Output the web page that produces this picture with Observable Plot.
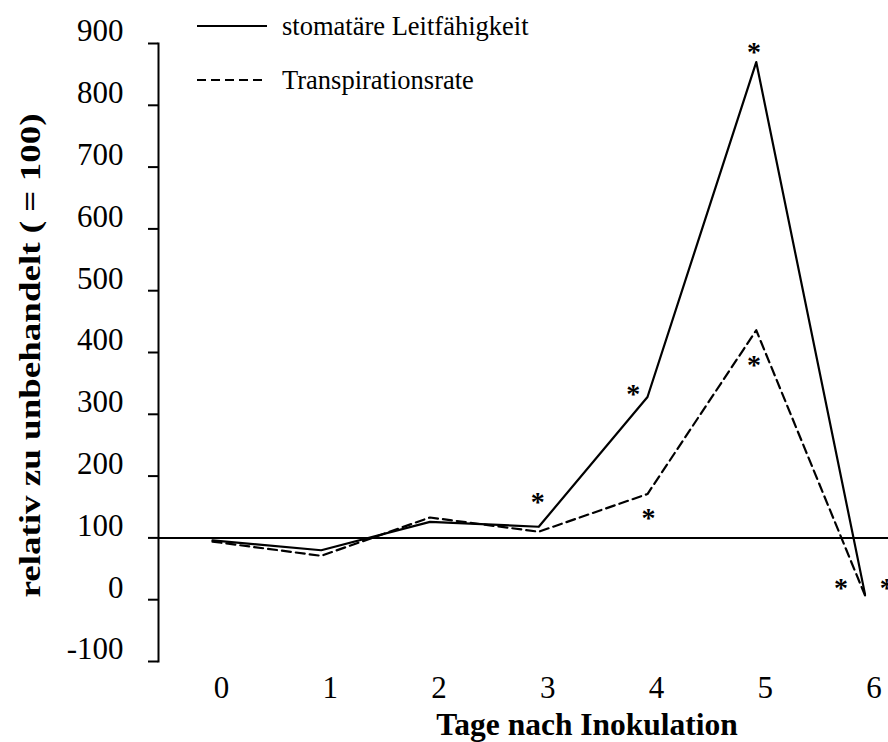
<!DOCTYPE html>
<html><head><meta charset="utf-8">
<script src="https://cdn.jsdelivr.net/npm/d3@7"></script>
<script src="https://cdn.jsdelivr.net/npm/@observablehq/plot@0.6"></script>
<style>
body{margin:0;background:#fff}
#wrap{position:relative;width:888px;height:742px;background:#fff}
.leg{position:absolute;left:197px;display:flex;align-items:center;font-family:"Liberation Serif",serif;font-size:26.5px;color:#000;height:30px;line-height:30px;white-space:nowrap}
.leg svg{margin-right:15px;display:block}
</style></head><body><div id="wrap"></div>
<script>
const days = [0, 1, 2, 3, 4, 5, 6];
const conductance = [96, 80, 126, 118, 328, 870, 9];
const transpiration = [94, 71, 133, 110, 171, 436, 7];
const seriesNames = ["stomatäre Leitfähigkeit", "Transpirationsrate"];
const yTicks = [-100, 0, 100, 200, 300, 400, 500, 600, 700, 800, 900];
const referenceValue = [100];
const starDays = [2.99, 3.87, 4.01, 4.98, 4.98, 5.78, 6.2];
const starValues = [166, 341, 140, 895, 388, 27, 27];
const xTitle = "Tage nach Inokulation";
const yTitle = "relativ zu unbehandelt ( = 100)";

const rows = [];
days.forEach((d, i) => {
  rows.push({day: d, value: conductance[i], series: seriesNames[0]});
  rows.push({day: d, value: transpiration[i], series: seriesNames[1]});
});
const stars = starDays.map((d, i) => ({day: d, value: starValues[i]}));
const dash = "9,5";

const chart = Plot.plot({
  width: 888, height: 742,
  marginLeft: 158, marginRight: 0, marginTop: 43, marginBottom: 81,
  x: {domain: [0, 6], range: [212, 864.5]},
  y: {domain: [-100, 900]},
  style: {fontFamily: "'Liberation Serif', serif", fontSize: "31px", color: "#000", background: "#fff"},
  marks: [
    Plot.frame({anchor: "left", strokeWidth: 2}),
    Plot.ruleY(referenceValue, {strokeWidth: 2}),
    Plot.axisY({ticks: yTicks, tickSize: 10, strokeWidth: 2, fill: "none", label: null}),
    Plot.axisY({ticks: yTicks, tickSize: 0, tickPadding: 35, dy: -12, label: null, tickFormat: d => String(d)}),
    Plot.axisX({ticks: days, tickSize: 0, tickPadding: 14, dx: 9, label: null, tickFormat: d => String(d)}),
    Plot.line(rows.filter(r => r.series === seriesNames[0]), {x: "day", y: "value", strokeWidth: 2.2, stroke: "#000"}),
    Plot.line(rows.filter(r => r.series === seriesNames[1]), {x: "day", y: "value", strokeWidth: 2.2, stroke: "#000", strokeDasharray: dash}),
    Plot.text(stars, {x: "day", y: "value", text: () => "*", fontSize: 28, fontWeight: "bold", dy: 5}),
    Plot.text([xTitle], {frameAnchor: "bottom", lineAnchor: "middle", textAnchor: "middle", dx: 63.5, dy: 63, fontSize: 31.5, fontWeight: "bold"}),
    Plot.text([yTitle], {frameAnchor: "left", lineAnchor: "middle", textAnchor: "start", rotate: -90, dx: -128, dy: 245, fontSize: 30, fontWeight: "bold"})
  ]
});
d3.select(chart).selectAll("text").filter(function() { return this.textContent === yTitle; })
  .attr("textLength", 484).attr("lengthAdjust", "spacingAndGlyphs");

const wrap = document.getElementById("wrap");
wrap.appendChild(chart);
const legendY = [26, 80];
seriesNames.forEach((name, i) => {
  const row = document.createElement("div");
  row.className = "leg";
  row.style.top = (legendY[i] - 15) + "px";
  row.innerHTML = `<svg width="70" height="4"><line x1="0" x2="70" y1="2" y2="2" stroke="#000" stroke-width="2" ${i === 1 ? `stroke-dasharray="${dash}"` : ""}/></svg><span></span>`;
  row.querySelector("span").textContent = name;
  wrap.appendChild(row);
});
</script></body></html>
